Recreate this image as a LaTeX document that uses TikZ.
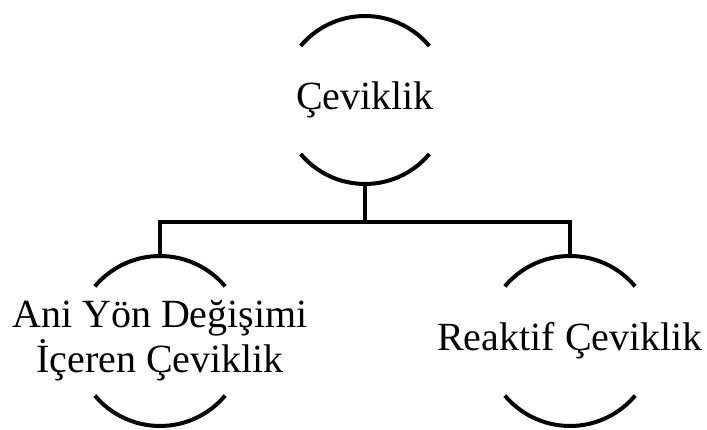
\documentclass[tikz,border=0pt]{standalone}
\usepackage{fontspec}
\setmainfont{Liberation Serif}
\begin{document}
\begin{tikzpicture}[x=1pt,y=1pt,
  ring/.style={circle, minimum size=#1, inner sep=0pt, outer sep=0pt},
  label text/.style={inner sep=0pt, align=center, font=\fontsize{40}{45}\selectfont},
  stroke/.style={line width=4pt, black}]
\useasboundingbox (0,0) rectangle (707,430);

% three concept rings (outlines only, drawn as arcs below)
\node[ring=168pt] (root) at (365,330) {};
\node[ring=170pt] (left) at (160,89) {};
\node[ring=170pt] (right) at (570,89) {};

% ring labels
\node[label text] (rootT) at (root.center) {Çeviklik};
\node[label text] (leftT) at (left.center) {Ani Yön Değişimi\\İçeren Çeviklik};
\node[label text] (rightT) at (right.center) {Reaktif Çeviklik};

% upper and lower arcs of each ring
\draw[stroke] (root.40) arc[start angle=40, end angle=140, radius=84pt];
\draw[stroke] (root.220) arc[start angle=220, end angle=320, radius=84pt];
\foreach \n in {left,right}{
  \draw[stroke] (\n.40) arc[start angle=40, end angle=140, radius=85pt];
  \draw[stroke] (\n.220) arc[start angle=220, end angle=320, radius=85pt];
}

% tree connectors
\coordinate (fork) at ([yshift=-38pt]root.south);
\draw[stroke] (root.south) -- (fork);
\draw[stroke] (left.north) |- (fork) -| (right.north);
\end{tikzpicture}
\end{document}
